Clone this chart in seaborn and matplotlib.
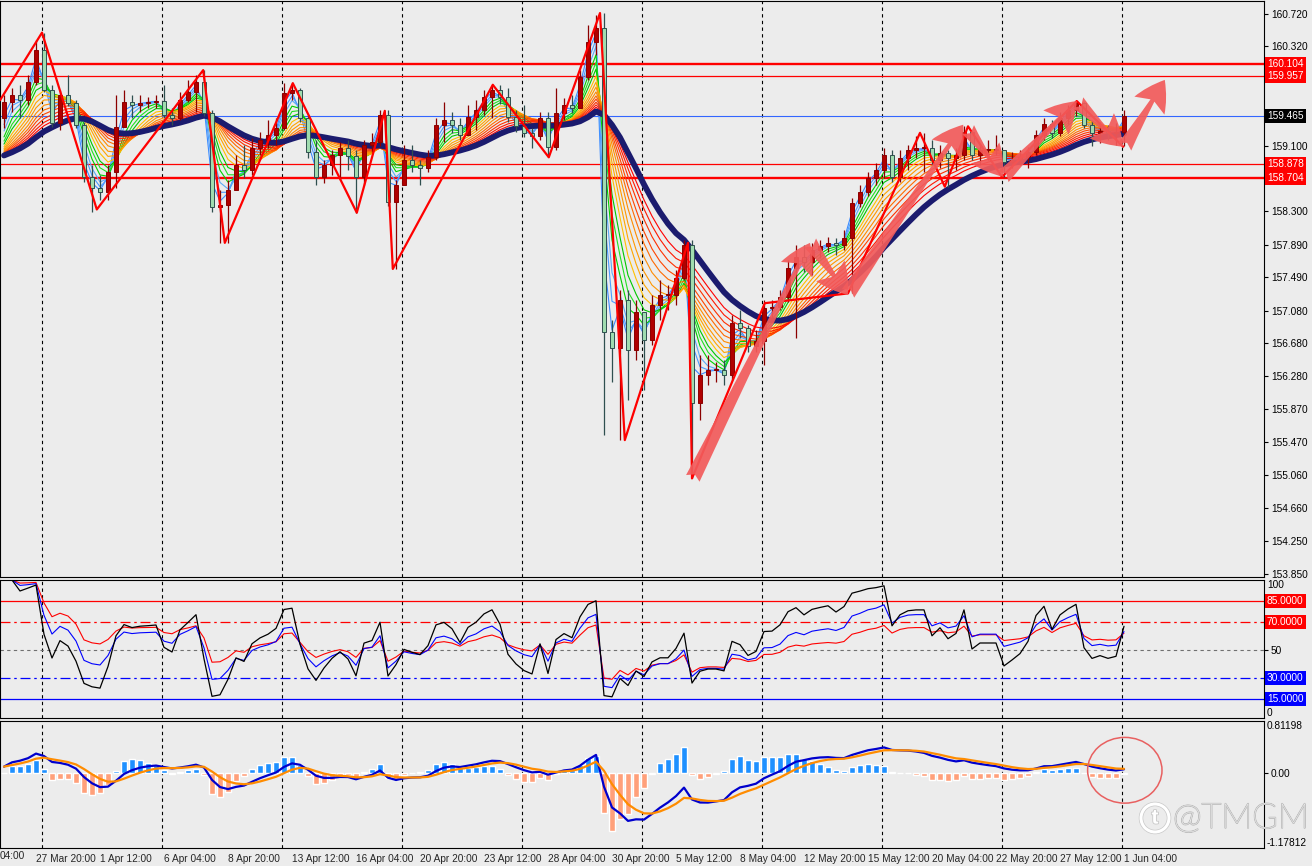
import numpy as np
import pandas as pd
import matplotlib
matplotlib.use("Agg")
import matplotlib.pyplot as plt
import matplotlib.transforms as mtransforms
import matplotlib.patheffects as pe
from matplotlib.patches import Ellipse, Circle
import seaborn as sns

# 8h bins (two 4h candles per bin)
close = [
    159.64, 159.72, 159.66, 159.88, 160.28, 159.79, 159.38, 159.72, 159.63, 159.36,
    158.72, 158.58, 158.53, 158.78, 159.33, 159.64, 159.60, 159.63, 159.64, 159.65,
    159.48, 159.44, 159.66, 159.76, 159.88, 159.50, 158.35, 158.37, 158.56, 158.87,
    158.80, 159.07, 159.17, 159.23, 159.32, 159.75, 159.79, 159.44, 159.02, 158.72,
    158.87, 158.99, 159.07, 158.98, 158.72, 159.11, 159.15, 159.48, 158.41, 158.62,
    158.93, 158.87, 158.83, 158.96, 159.36, 159.42, 159.36, 159.23, 159.45, 159.54,
    159.70, 159.79, 159.70, 159.45, 159.34, 159.26, 159.22, 159.44, 159.09, 159.50,
    159.60, 159.56, 159.94, 160.37, 160.55, 156.82, 156.62, 157.21, 156.60, 157.06,
    156.72, 157.15, 157.27, 157.27, 157.48, 157.88, 155.94, 156.29, 156.35, 156.35,
    156.29, 156.93, 156.86, 156.64, 156.71, 157.11, 157.12, 157.25, 157.60, 157.74,
    157.68, 157.82, 157.87, 157.91, 157.88, 157.97, 158.40, 158.53, 158.71, 158.80,
    158.99, 158.72, 158.95, 159.05, 159.07, 159.07, 158.93, 159.01, 158.95, 158.99,
    159.27, 158.99, 159.05, 159.05, 159.05, 158.90, 158.93, 158.96, 159.02, 159.23,
    159.37, 159.26, 159.44, 159.54, 159.63, 159.36, 159.26, 159.28, 159.26, 159.27,
    159.47]
high = [
    159.72, 159.81, 159.85, 159.97, 160.40, 160.49, 159.85, 159.79, 159.97, 159.66,
    159.39, 158.87, 158.74, 158.87, 159.72, 159.79, 159.72, 159.72, 159.70, 159.72,
    159.85, 159.56, 159.76, 159.91, 159.97, 160.03, 159.54, 158.56, 158.68, 158.99,
    159.11, 159.20, 159.27, 159.42, 159.44, 159.87, 159.87, 159.81, 159.48, 159.17,
    158.93, 159.05, 159.15, 159.17, 159.05, 159.17, 159.26, 159.54, 159.54, 158.68,
    159.11, 159.11, 158.93, 159.05, 159.44, 159.64, 159.52, 159.44, 159.60, 159.66,
    159.79, 159.85, 159.85, 159.81, 159.54, 159.60, 159.32, 159.52, 159.52, 159.81,
    159.69, 159.72, 160.03, 160.58, 160.71, 160.73, 156.96, 157.33, 157.33, 157.21,
    157.02, 157.27, 157.45, 157.39, 157.58, 157.95, 157.95, 156.53, 156.53, 156.45,
    156.47, 157.02, 157.09, 156.90, 156.84, 157.21, 157.21, 157.33, 157.70, 157.88,
    157.88, 157.91, 157.95, 157.98, 157.97, 158.07, 158.46, 158.62, 158.78, 158.89,
    159.07, 159.05, 159.05, 159.11, 159.22, 159.26, 159.17, 159.11, 159.05, 159.07,
    159.34, 159.27, 159.11, 159.17, 159.23, 159.05, 159.02, 159.05, 159.09, 159.30,
    159.44, 159.42, 159.52, 159.60, 159.66, 159.64, 159.42, 159.39, 159.36, 159.38,
    159.54]
low = [
    159.32, 159.52, 159.44, 159.60, 159.85, 159.76, 159.33, 159.30, 159.59, 159.32,
    158.66, 158.29, 158.44, 158.44, 158.58, 159.54, 159.44, 159.52, 159.56, 159.56,
    159.44, 159.36, 159.42, 159.64, 159.52, 159.47, 158.29, 157.91, 157.91, 158.62,
    158.71, 158.74, 158.99, 159.07, 159.11, 159.30, 159.66, 159.39, 158.95, 158.62,
    158.65, 158.74, 158.68, 158.80, 158.28, 158.62, 159.02, 159.10, 158.36, 157.59,
    158.62, 158.78, 158.62, 158.78, 158.93, 159.15, 159.26, 159.17, 159.32, 159.30,
    159.48, 159.44, 159.61, 159.39, 159.27, 159.21, 159.07, 159.17, 158.96, 159.05,
    159.42, 159.50, 159.56, 159.91, 160.21, 155.55, 156.20, 155.49, 155.98, 156.47,
    156.10, 156.66, 156.96, 157.09, 157.15, 157.45, 155.02, 155.74, 156.17, 156.20,
    156.17, 156.23, 156.74, 156.57, 156.57, 156.41, 156.99, 157.09, 157.18, 156.74,
    157.55, 157.52, 157.72, 157.80, 157.76, 157.82, 157.29, 158.35, 158.48, 158.62,
    158.71, 158.66, 158.66, 158.80, 158.95, 158.78, 158.87, 158.83, 158.60, 158.80,
    158.93, 158.93, 158.87, 158.93, 158.99, 158.72, 158.83, 158.87, 158.83, 158.99,
    159.17, 159.20, 159.22, 159.37, 159.47, 159.32, 159.10, 159.13, 159.17, 159.11,
    159.10]
first_open = 159.44
ma_seed = 158.96  # value of the slow average at the left edge

# zigzag swing points (bin index, price)
zz_x = [-0.5, 4.75, 11.6, 24.9, 27.6, 36.1, 44.1, 47.6, 48.6, 61.1, 68.1, 74.5,
        77.6, 85.5, 86.0, 95.1, 105.5, 114.5, 117.6, 120.5, 124.75, 134.1, 139.9]
zz_y = [159.66, 160.49, 158.32, 160.03, 157.91, 159.87, 158.28, 159.53, 157.59,
        159.85, 158.96, 160.73, 155.49, 157.91, 155.02, 157.17, 157.29, 159.26,
        158.60, 159.34, 158.72, 159.65, 159.09]

# hand drawn arrows
arr_x0 = [86.1, 100.75, 105.5, 120.5, 124.9, 134.25, 140.1]
arr_y0 = [155.02, 157.91, 157.29, 159.30, 158.72, 159.63, 159.09]
arr_x1 = [100.75, 105.5, 119.9, 124.9, 134.1, 139.9, 145.1]
arr_y1 = [157.91, 157.27, 159.36, 158.72, 159.65, 159.09, 159.91]

levels_thick = [160.104, 158.704]
levels_thin = [159.957, 158.878]
last_price = 159.465

price_ticks = [160.720, 160.320, 159.910, 159.510, 159.100, 158.700, 158.300,
               157.890, 157.490, 157.080, 156.680, 156.280, 155.870, 155.470,
               155.060, 154.660, 154.250, 153.850]
hidden_ticks = [159.910, 159.510, 158.700]  # sit under the coloured price boxes
date_labels = ["27 Mar 20:00", "1 Apr 12:00", "6 Apr 04:00", "8 Apr 20:00",
               "13 Apr 12:00", "16 Apr 04:00", "20 Apr 20:00", "23 Apr 12:00",
               "28 Apr 04:00", "30 Apr 20:00", "5 May 12:00", "8 May 04:00",
               "12 May 20:00", "15 May 12:00", "20 May 04:00", "22 May 20:00",
               "27 May 12:00", "1 Jun 04:00"]

ribbon_spans = [1.3, 1.6, 1.9, 2.3, 2.7, 3.1, 3.6, 4.1, 4.6, 5.2, 5.8, 6.4, 7.1, 7.8, 8.5]
ribbon_colors = ['#3C8CFF', '#4A9CFF', '#5AAAF5', '#00D000', '#22E022', '#00C800',
                 '#FFC000', '#FFA500', '#FF9800', '#FF8C00', '#FF6A00', '#FF4500',
                 '#FF3000', '#FF1800', '#FF0000']

sns.set_style("white")
plt.rcParams['font.family'] = ['Liberation Sans', 'DejaVu Sans']

W, H = 1312, 866
bg = '#ECECEC'
fig = plt.figure(figsize=(W / 100, H / 100), dpi=100)
fig.patch.set_facecolor(bg)


def panel(top, bottom):
    ax = fig.add_axes([0, 1 - bottom / H, 1264 / W, (bottom - top) / H])
    ax.set_facecolor(bg)
    for sp in ax.spines.values():
        sp.set_color('black')
        sp.set_linewidth(0.8)
    ax.set_xlim(-0.5, 157.5)
    ax.yaxis.tick_right()
    ax.tick_params(axis='y', length=3, width=0.8, labelsize=7.3, pad=2, colors='black')
    ax.tick_params(axis='x', length=0, labelbottom=False)
    return ax


def smooth(series, span):
    # two passes of an exponential average
    return series.ewm(span=span, adjust=False).mean().ewm(span=span, adjust=False).mean()


ax1 = panel(1, 577)
ax2 = panel(580, 718)
ax3 = panel(721, 848)

c = np.array(close)
o = np.r_[first_open, c[:-1]]
hi = np.maximum(np.array(high), np.maximum(o, c))
lo = np.minimum(np.array(low), np.minimum(o, c))
x = np.arange(len(c))

s = pd.Series([ma_seed] + close)

# vertical dashed grid
for ax in (ax1, ax2, ax3):
    for k in range(10):
        ax.axvline(4.7 + 15 * k, color='black', lw=0.8, ls=(0, (3, 3)), zorder=1)

# main panel
for lv in levels_thick:
    ax1.axhline(lv, color='#FF0000', lw=1.7, zorder=1.5)
for lv in levels_thin:
    ax1.axhline(lv, color='#FF0000', lw=0.9, zorder=1.5)
ax1.axhline(last_price, color='#3366FF', lw=0.8, zorder=1.5)

for sp, col in zip(ribbon_spans, ribbon_colors):
    sns.lineplot(x=x, y=smooth(s, sp).iloc[1:].values, ax=ax1, color=col, lw=0.8,
                 zorder=2, legend=False)
sns.lineplot(x=x, y=smooth(s, 10).iloc[1:].values, ax=ax1, color='#1B1B6E', lw=4.2,
             zorder=3, legend=False)

up = c >= o
ax1.vlines(x, lo, hi, colors=np.where(up, '#8B0000', '#2F4F4F'), lw=0.9, zorder=4)
ax1.bar(x, np.maximum(np.abs(c - o), 0.012), bottom=np.minimum(o, c), width=0.62,
        color=np.where(up, '#B00000', '#A0DCAF'),
        edgecolor=np.where(up, '#8B0000', '#2F4F4F'), linewidth=0.7, zorder=5)

sns.lineplot(x=zz_x, y=zz_y, ax=ax1, color='#FF0000', lw=1.6, sort=False,
             zorder=6, legend=False)

for a, b, cc, d in zip(arr_x0, arr_y0, arr_x1, arr_y1):
    ax1.annotate('', xy=(cc, d), xytext=(a, b), zorder=7,
                 arrowprops=dict(arrowstyle='fancy,head_length=0.9,head_width=1.05,tail_width=0.45',
                                 fc='#F25B5B', ec='none', alpha=0.92,
                                 mutation_scale=24, shrinkA=0, shrinkB=0))

ax1.set_ylim(153.81, 160.878)
ax1.set_yticks(price_ticks, ["" if v in hidden_ticks else f"{v:.3f}" for v in price_ticks])


def rlabel(ax, y, txt, fc=None, va='center'):
    tr = mtransforms.blended_transform_factory(ax.transAxes, ax.transData)
    kw = dict(transform=tr, ha='left', va=va, fontsize=7.3, clip_on=False, zorder=10,
              color='white' if fc else 'black')
    if fc:
        kw['bbox'] = dict(boxstyle='square,pad=0.2', fc=fc, ec='none')
    ax.text(1 + 3 / 1264, y, txt, **kw)


for lv in levels_thick + levels_thin:
    rlabel(ax1, lv, f"{lv:.3f}", '#FF0000')
rlabel(ax1, last_price, f"{last_price:.3f}", '#000000')


# oscillator panel
def rsi(series, n):
    d = series.diff()
    g = d.clip(lower=0).ewm(alpha=1 / n, adjust=False).mean()
    l = (-d.clip(upper=0)).ewm(alpha=1 / n, adjust=False).mean()
    return (100 - 100 / (1 + g / l)).iloc[1:].values


ps = pd.Series([first_open] + close)
ax2.axhline(85, color='#FF0000', lw=0.9)
ax2.axhline(70, color='#FF0000', lw=0.9, ls=(0, (8, 3, 2, 3)))
ax2.axhline(50, color='#707070', lw=0.8, ls=(0, (3, 3)))
ax2.axhline(30, color='#0000FF', lw=0.9, ls=(0, (8, 3, 2, 3)))
ax2.axhline(15, color='#0000FF', lw=0.9)
sns.lineplot(x=x, y=rsi(ps, 15), ax=ax2, color='#FF0000', lw=0.8, legend=False)
sns.lineplot(x=x, y=rsi(ps, 9), ax=ax2, color='#0000FF', lw=0.8, legend=False)
sns.lineplot(x=x, y=rsi(ps, 5), ax=ax2, color='#000000', lw=0.9, legend=False)
ax2.set_ylim(1.4, 100)
ax2.set_yticks([50], ['50'])
rlabel(ax2, 100, '100', va='top')
rlabel(ax2, 1.4, '0', va='bottom')
rlabel(ax2, 85, '85.0000', '#FF0000')
rlabel(ax2, 70, '70.0000', '#FF0000')
rlabel(ax2, 30, '30.0000', '#0000FF')
rlabel(ax2, 15, '15.0000', '#0000FF')

# MACD panel
macd = (s.ewm(span=6, adjust=False).mean() - s.ewm(span=13, adjust=False).mean()).iloc[1:]
signal = macd.ewm(span=4.5, adjust=False).mean()
hist = (macd - signal).values * 2.5
ax3.bar(x, hist, width=0.75, color=np.where(hist >= 0, '#1E90FF', '#FFA07A'), zorder=2)
sns.lineplot(x=x, y=macd.values, ax=ax3, color='#0000CD', lw=1.6, zorder=3, legend=False)
sns.lineplot(x=x, y=signal.values, ax=ax3, color='#FF8C00', lw=1.6, zorder=3, legend=False)
ax3.add_patch(Ellipse((140.1, 0.04), 9.3, 1.03, fill=False, ec='#E86060', lw=1.1, zorder=8))
ax3.set_ylim(-1.17812, 0.81198)
ax3.set_yticks([0], ['0.00'])
rlabel(ax3, 0.81198, '0.81198', va='top')
rlabel(ax3, -1.17812, '-1.17812', va='bottom')

ax3.set_xticks([4 + 8 * k for k in range(len(date_labels))], date_labels)
ax3.tick_params(axis='x', length=3, width=0.8, direction='in', labelbottom=True,
                labelsize=7.3, pad=4)
for lbl in ax3.get_xticklabels():
    lbl.set_ha('left')
fig.text(0, 1 - 856 / H, '04:00', ha='left', va='center', fontsize=7.3)

# watermark
idt = mtransforms.IdentityTransform()
fig.add_artist(Circle((1155, H - 818), 14, transform=idt, fill=False, ec='white', lw=2.2,
                      path_effects=[pe.withStroke(linewidth=3.2, foreground='#C8C8C8')]))
fig.text(1155 / W, 1 - 818 / H, 't', ha='center', va='center', fontsize=15,
         color='white', fontweight='bold',
         path_effects=[pe.withStroke(linewidth=1.2, foreground='#C8C8C8')])
fig.text(1173 / W, 1 - 818 / H, '@TMGM', ha='left', va='center', fontsize=25,
         color='white', family=['Lato', 'DejaVu Sans'], fontweight='light',
         path_effects=[pe.withStroke(linewidth=1.2, foreground='#C0C0C0')])

fig.savefig('out.png', dpi=100, facecolor=bg)
